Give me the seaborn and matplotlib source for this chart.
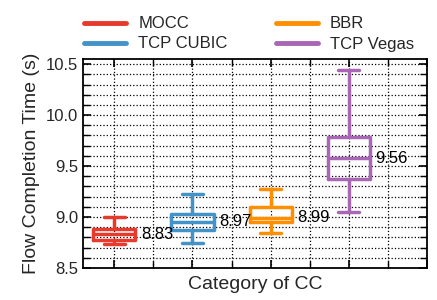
import matplotlib
matplotlib.use("Agg")
import matplotlib.pyplot as plt
from matplotlib.lines import Line2D
from matplotlib.ticker import MultipleLocator
import seaborn as sns
import pandas as pd

categories = ["MOCC", "TCP CUBIC", "BBR", "TCP Vegas"]
mocc_fct = [8.735, 8.77, 8.83, 8.88, 9.00]
cubic_fct = [8.74, 8.875, 8.955, 9.03, 9.23]
bbr_fct = [8.84, 8.95, 8.99, 9.095, 9.27]
vegas_fct = [9.05, 9.37, 9.575, 9.79, 10.44]
value_labels = ["8.83", "8.97", "8.99", "9.56"]
colors = ["#E8392D", "#4393C8", "#FF8F00", "#A866B5"]

series = [mocc_fct, cubic_fct, bbr_fct, vegas_fct]
rows = []
for c, vals in zip(categories, series):
    for v in vals:
        rows.append({"cc": c, "fct": v})
df = pd.DataFrame(rows)

sns.set_style("ticks")
plt.rcParams["font.family"] = ["Liberation Sans", "DejaVu Sans"]

fig = plt.figure(figsize=(4.37, 3.0), dpi=100)
ax = fig.add_axes([0.19, 0.107, 0.787, 0.696])

sns.boxplot(data=df, x="cc", y="fct", hue="cc", order=categories, hue_order=categories,
            palette=colors, fill=False, width=0.54, whis=(0, 100), linewidth=2.5,
            dodge=False, legend=False, ax=ax, zorder=3)

meds = [s[2] for s in series]
for i, (m, lab) in enumerate(zip(meds, value_labels)):
    ax.text(i + 0.34, m, lab, ha="left", va="center", fontsize=12, color="black", zorder=4)

ax.set_xlim(-0.4, 4.0)
ax.set_ylim(8.5, 10.55)
ax.yaxis.set_major_locator(MultipleLocator(0.5))
ax.yaxis.set_minor_locator(MultipleLocator(0.1))
ax.xaxis.set_major_locator(MultipleLocator(1.0))
ax.xaxis.set_minor_locator(MultipleLocator(0.5))
ax.set_xticklabels([])
ax.tick_params(axis="both", which="both", direction="in", top=True, right=True,
               labelbottom=False, color="black")
ax.tick_params(axis="both", which="major", length=6, width=1.2)
ax.tick_params(axis="both", which="minor", length=5, width=1.0)
ax.tick_params(axis="y", labelsize=12)
ax.grid(True, which="both", linestyle=":", color="black", linewidth=0.9, zorder=0)
ax.set_axisbelow(True)
for sp in ax.spines.values():
    sp.set_color("black")
    sp.set_linewidth(1.3)

ax.set_xlabel("Category of CC", fontsize=14, labelpad=6)
ax.set_ylabel("Flow Completion Time (s)", fontsize=14)

handles = [Line2D([0], [0], color=c, linewidth=3.5) for c in colors]
fig.legend(handles, categories, ncol=2, loc="upper left", bbox_to_anchor=(0.158, 0.995),
           frameon=False, fontsize=12, handlelength=2.5, columnspacing=2.9,
           labelspacing=0.3, handletextpad=0.75)

fig.savefig("out.png", dpi=100)
